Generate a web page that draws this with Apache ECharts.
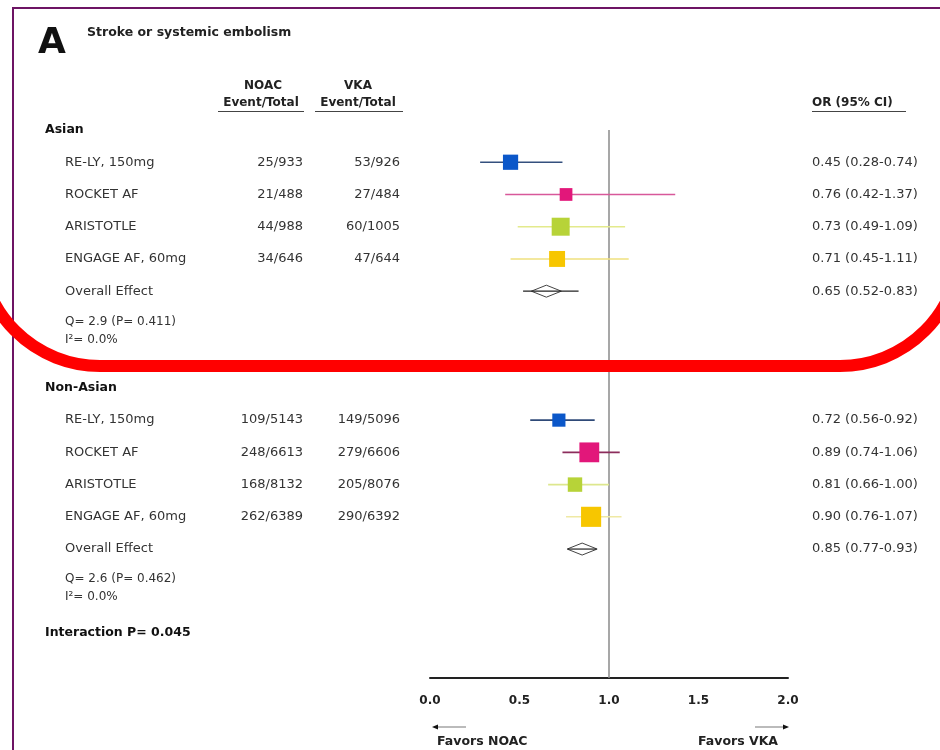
<!DOCTYPE html>
<html><head><meta charset="utf-8">
<script src="https://cdn.jsdelivr.net/npm/echarts@6/dist/echarts.min.js"></script>
<style>html,body{margin:0;padding:0;background:#fff}#c{width:940px;height:750px}</style>
</head><body><div id="c"></div>
<script>
// ---------- data ----------
const studies = ['RE-LY, 150mg', 'ROCKET AF', 'ARISTOTLE', 'ENGAGE AF, 60mg'];
const asianNoac = ['25/933', '21/488', '44/988', '34/646'];
const asianVka = ['53/926', '27/484', '60/1005', '47/644'];
const asianOR = [0.45, 0.76, 0.73, 0.71];
const asianLo = [0.28, 0.42, 0.49, 0.45];
const asianHi = [0.74, 1.37, 1.09, 1.11];
const asianWeight = [20, 14, 28, 22];
const asianOverall = [0.65, 0.52, 0.83];
const asianHet = ['Q= 2.9 (P= 0.411)', 'I\u00b2= 0.0%'];

const nonAsianNoac = ['109/5143', '248/6613', '168/8132', '262/6389'];
const nonAsianVka = ['149/5096', '279/6606', '205/8076', '290/6392'];
const nonAsianOR = [0.72, 0.89, 0.81, 0.90];
const nonAsianLo = [0.56, 0.74, 0.66, 0.76];
const nonAsianHi = [0.92, 1.06, 1.00, 1.07];
const nonAsianWeight = [15, 34, 18, 35];
const nonAsianOverall = [0.85, 0.77, 0.93];
const nonAsianHet = ['Q= 2.6 (P= 0.462)', 'I\u00b2= 0.0%'];

const groupNames = ['Asian', 'Non-Asian'];
const overallName = 'Overall Effect';
const interactionText = 'Interaction P= 0.045';
const xTicks = [0, 0.5, 1.0, 1.5, 2.0];

// ---------- styles ----------
const FONT = 'DejaVu Sans';
const studyColor = ['#0b57c9', '#e2177a', '#b7d338', '#f7c600'];
const lineColor = [
  ['#34507e', '#d8589a', '#e3ea8c', '#efe07e'],
  ['#2f4a78', '#8c2d5c', '#dde78e', '#efe9a4']
];
const fmtCI = (o, l, h) => o.toFixed(2) + ' (' + l.toFixed(2) + '-' + h.toFixed(2) + ')';

// row layout (y-axis value units)
const groups = [
  {head: -1, first: 0, noac: asianNoac, vka: asianVka, or: asianOR, lo: asianLo, hi: asianHi, w: asianWeight, ov: asianOverall, het: asianHet},
  {head: 7, first: 8, noac: nonAsianNoac, vka: nonAsianVka, or: nonAsianOR, lo: nonAsianLo, hi: nonAsianHi, w: nonAsianWeight, ov: nonAsianOverall, het: nonAsianHet}
];

const forestData = [];
const overallData = [];
const labelEntries = [];
groups.forEach((g, gi) => {
  labelEntries.push({row: g.head, items: [{t: groupNames[gi], x: 45, align: 'left', bold: true}]});
  studies.forEach((s, i) => {
    const row = g.first + i;
    forestData.push([g.or[i], row, g.lo[i], g.hi[i], g.w[i], i, gi]);
    labelEntries.push({row, items: [
      {t: s, x: 65, align: 'left'},
      {t: g.noac[i], x: 303, align: 'right'},
      {t: g.vka[i], x: 400, align: 'right'},
      {t: fmtCI(g.or[i], g.lo[i], g.hi[i]), x: 812, align: 'left'}
    ]});
  });
  const orow = g.first + studies.length;
  overallData.push([g.ov[0], orow, g.ov[1], g.ov[2]]);
  labelEntries.push({row: orow, items: [
    {t: overallName, x: 65, align: 'left'},
    {t: fmtCI(g.ov[0], g.ov[1], g.ov[2]), x: 812, align: 'left'}
  ]});
  labelEntries.push({row: orow + 1, items: [
    {t: g.het[0], x: 65, align: 'left', dy: -2, small: true},
    {t: g.het[1], x: 65, align: 'left', dy: 16, small: true}
  ]});
});
labelEntries.push({row: 14.6, items: [{t: interactionText, x: 45, align: 'left', bold: true}]});

const chart = echarts.init(document.getElementById('c'), null, {renderer: 'canvas'});

const txt = (text, x, y, opt = {}) => ({
  type: 'text', x, y, z: 50,
  style: {
    text, fill: opt.fill || '#222',
    font: (opt.bold ? 'bold ' : '') + (opt.size || 12) + 'px "' + FONT + '"',
    textAlign: opt.align || 'left', textVerticalAlign: 'middle'
  }
});
const ln = (x1, y1, x2, y2, stroke, w) => ({type: 'line', z: 50, shape: {x1, y1, x2, y2}, style: {stroke, lineWidth: w}});

chart.setOption({
  animation: false,
  backgroundColor: '#fff',
  grid: {left: 430, right: 152, top: 130, bottom: 72},
  xAxis: {
    type: 'value', min: 0, max: 2, interval: 0.5,
    axisLine: {show: true, onZero: false, lineStyle: {color: '#222', width: 2}},
    axisTick: {show: false},
    splitLine: {show: false},
    axisLabel: {
      formatter: v => xTicks.includes(v) ? v.toFixed(1) : '',
      fontFamily: FONT, fontWeight: 'bold', fontSize: 12, color: '#222', margin: 17
    }
  },
  yAxis: {type: 'value', min: -1, max: 16, inverse: true, show: false, splitLine: {show: false}},
  series: [
    {
      type: 'custom', name: 'studies', data: forestData, clip: false, z: 5,
      renderItem: (params, api) => {
        const y = api.value(1);
        const p = api.coord([api.value(0), y]);
        const a = api.coord([api.value(2), y]);
        const b = api.coord([api.value(3), y]);
        const s = 3.4 * Math.sqrt(api.value(4));
        const si = api.value(5), gi = api.value(6);
        return {type: 'group', children: [
          {type: 'line', shape: {x1: a[0], y1: a[1], x2: b[0], y2: b[1]}, style: {stroke: lineColor[gi][si], lineWidth: 1.6}},
          {type: 'rect', shape: {x: p[0] - s / 2, y: p[1] - s / 2, width: s, height: s}, style: {fill: studyColor[si]}}
        ]};
      },
      markLine: {
        silent: true, symbol: 'none', label: {show: false},
        lineStyle: {color: '#8a8a8a', width: 1.5, type: 'solid'},
        data: [{xAxis: 1}]
      }
    },
    {
      type: 'custom', name: 'overall', data: overallData, clip: false, z: 6,
      renderItem: (params, api) => {
        const y = api.value(1);
        const p = api.coord([api.value(0), y]);
        const a = api.coord([api.value(2), y]);
        const b = api.coord([api.value(3), y]);
        const hw = 15, hh = 6;
        return {type: 'group', children: [
          {type: 'polygon', shape: {points: [[p[0] - hw, p[1]], [p[0], p[1] - hh], [p[0] + hw, p[1]], [p[0], p[1] + hh]]},
            style: {fill: '#fff', stroke: '#444', lineWidth: 1}},
          {type: 'line', shape: {x1: a[0], y1: a[1], x2: b[0], y2: b[1]}, style: {stroke: '#222', lineWidth: 1.2}}
        ]};
      }
    },
    {
      type: 'custom', name: 'labels', data: labelEntries.map(e => [0, e.row]), clip: false, z: 7,
      renderItem: (params, api) => {
        const e = labelEntries[params.dataIndex];
        const yy = api.coord([0, api.value(1)])[1];
        return {type: 'group', children: e.items.map(it => ({
          type: 'text', x: it.x, y: yy + (it.dy || 0),
          style: {
            text: it.t, fill: it.bold ? '#111' : '#333',
            font: (it.bold ? 'bold 12.5px ' : (it.small ? '12px ' : '13px ')) + '"' + FONT + '"',
            textAlign: it.align, textVerticalAlign: 'middle'
          }
        }))};
      }
    }
  ],
  graphic: [
    // frame
    {type: 'rect', z: 40, shape: {x: 13, y: 8, width: 1000, height: 1000}, style: {fill: 'none', stroke: '#6d1464', lineWidth: 2}},
    // title
    txt('A', 38, 44, {bold: true, size: 36, fill: '#111'}),
    txt('Stroke or systemic embolism', 87, 33, {bold: true, size: 12.5, fill: '#222'}),
    // column headers
    txt('NOAC', 263, 86, {bold: true, size: 12, align: 'center'}),
    txt('Event/Total', 261, 103, {bold: true, size: 12, align: 'center'}),
    txt('VKA', 358, 86, {bold: true, size: 12, align: 'center'}),
    txt('Event/Total', 358, 103, {bold: true, size: 12, align: 'center'}),
    txt('OR (95% CI)', 812, 103, {bold: true, size: 12}),
    ln(218, 111.5, 304, 111.5, '#444', 1),
    ln(315, 111.5, 403, 111.5, '#444', 1),
    ln(812, 111.5, 906, 111.5, '#444', 1),
    // favors arrows
    ln(436, 727, 466, 727, '#bbb', 2),
    {type: 'polygon', z: 50, shape: {points: [[432, 727], [438, 724.5], [438, 729.5]]}, style: {fill: '#111'}},
    ln(755, 727, 785, 727, '#bbb', 2),
    {type: 'polygon', z: 50, shape: {points: [[789, 727], [783, 724.5], [783, 729.5]]}, style: {fill: '#111'}},
    txt('Favors NOAC', 437, 742, {bold: true, size: 12.5}),
    txt('Favors VKA', 778, 742, {bold: true, size: 12.5, align: 'right'}),
    // red highlight
    {type: 'rect', z: 60, shape: {x: -20, y: -200, width: 980, height: 566, r: 120}, style: {fill: 'none', stroke: '#ff0000', lineWidth: 12}}
  ]
});
</script>
</body></html>
